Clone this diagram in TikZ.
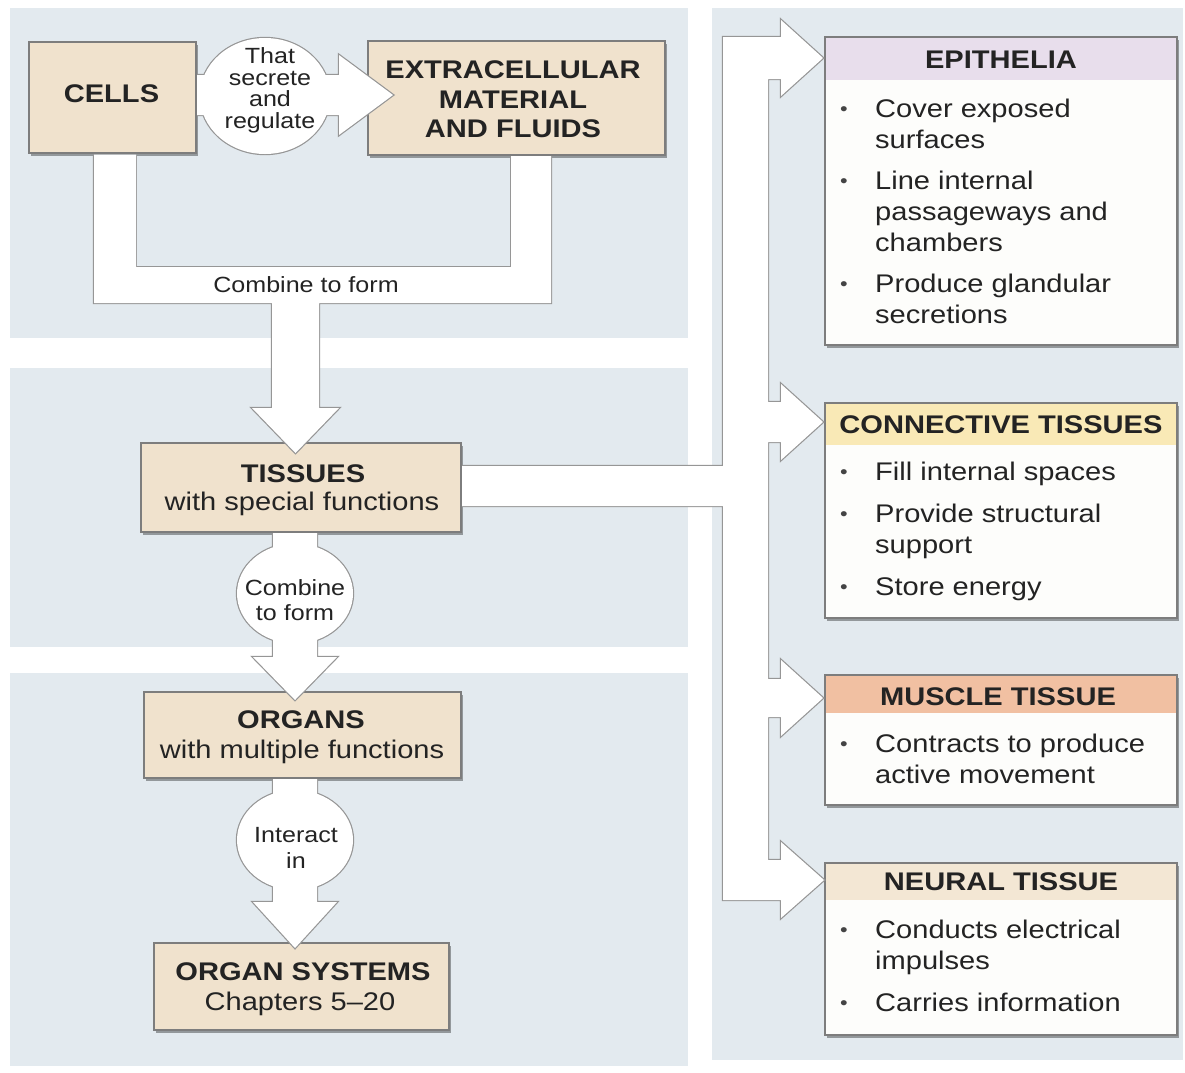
\documentclass[tikz,border=0pt]{standalone}
\usepackage{fontspec}
\setmainfont{Liberation Sans}[FakeStretch=1.14]
\usetikzlibrary{shadows,calc}
\definecolor{bgc}{RGB}{227,234,239}
\definecolor{boxtan}{RGB}{240,226,205}
\definecolor{bord}{RGB}{125,125,125}
\definecolor{arr}{RGB}{150,150,150}
\definecolor{ink}{RGB}{35,35,35}
\definecolor{hepi}{RGB}{232,222,236}
\definecolor{hcon}{RGB}{249,233,182}
\definecolor{hmus}{RGB}{241,192,162}
\definecolor{hneu}{RGB}{243,231,212}
\definecolor{bodyw}{RGB}{253,253,251}
\newcommand\myitem[3]{\node[bul, anchor=base west] (#1b) at (840,#2-2) {•};\node[bt, anchor=base west] (#1) at (875,#2) {#3};}
\newcommand\mycont[3]{\node[bt, anchor=base west] (#1) at (875,#2) {#3};}
\begin{document}
\begin{tikzpicture}[x=1pt,y=-1pt,
  panel/.style={fill=bgc, draw=none},
  tanbox/.style={draw=bord, line width=1.3pt, fill=boxtan, outer sep=0pt, inner sep=0pt,
    drop shadow={shadow xshift=1.5pt, shadow yshift=-2.5pt, fill=black, opacity=.35}},
  whitebox/.style={draw=bord, line width=1.3pt, fill=bodyw, outer sep=0pt, inner sep=0pt,
    drop shadow={shadow xshift=1.5pt, shadow yshift=-2.5pt, fill=black, opacity=.35}},
  bline/.style={draw=bord, line width=1.3pt},
  aline/.style={draw=arr, line width=2.4pt, line join=miter},
  afill/.style={fill=white},
  tb/.style={font=\fontsize{25.5}{30}\selectfont\bfseries, text=ink, inner sep=0pt},
  bt/.style={font=\fontsize{25.5}{30}\selectfont, text=ink, inner sep=0pt},
  bul/.style={font=\fontsize{19}{20}\selectfont, text=ink!85, inner sep=0pt},
  st/.style={font=\fontsize{22}{22}\selectfont, text=ink, inner sep=0pt}
]
\useasboundingbox (0,0) rectangle (1185,1072);
% background panels
\fill[panel] (10,8) rectangle (688,338);
\fill[panel] (10,368) rectangle (688,647);
\fill[panel] (10,673) rectangle (688,1066);
\fill[panel] (712,8) rectangle (1183,1060);

% left boxes
\node[tanbox, minimum width=167pt, minimum height=111pt] (cells) at (112.5,97.5) {};
\node[tanbox, minimum width=297pt, minimum height=114pt] (extra) at (516.5,98) {};
\node[tanbox, minimum width=320pt, minimum height=89pt] (tissues) at (301,487.5) {};
\node[tanbox, minimum width=317pt, minimum height=86pt] (organs) at (302.5,735) {};
\node[tanbox, minimum width=295pt, minimum height=87pt] (systems) at (301.5,986.5) {};

% right boxes
\node[whitebox, minimum width=352pt, minimum height=308pt] (epi) at (1001,191) {};
\fill[hepi] (epi.north west) rectangle ($(epi.north east)+(0,43)$);
\draw[bline] (epi.north west) rectangle (epi.south east);
\node[whitebox, minimum width=352pt, minimum height=215pt] (con) at (1001,510.5) {};
\fill[hcon] (con.north west) rectangle ($(con.north east)+(0,42)$);
\draw[bline] (con.north west) rectangle (con.south east);
\node[whitebox, minimum width=352pt, minimum height=130pt] (mus) at (1001,740) {};
\fill[hmus] (mus.north west) rectangle ($(mus.north east)+(0,38)$);
\draw[bline] (mus.north west) rectangle (mus.south east);
\node[whitebox, minimum width=352pt, minimum height=172pt] (neu) at (1001,949) {};
\fill[hneu] (neu.north west) rectangle ($(neu.north east)+(0,37)$);
\draw[bline] (neu.north west) rectangle (neu.south east);

% connector: cells -> extracellular with bubble
\draw[aline] (197,75) -- (339,75) -- (339,55) -- (393,95) -- (339,135) -- (339,115) -- (197,115);
\draw[aline] (265,96) ellipse [x radius=65pt, y radius=58pt];
\fill[afill] (197,75) -- (339,75) -- (339,55) -- (393,95) -- (339,135) -- (339,115) -- (197,115) -- cycle;
\fill[afill] (265,96) ellipse [x radius=65pt, y radius=58pt];

% connector: combine to form (U) -> tissues
\draw[aline] (94,154.5) -- (94,303) -- (272,303) -- (272,408) -- (252,408) -- (295.5,453) -- (339,408) -- (319,408) -- (319,303) -- (551,303) -- (551,156);
\draw[aline] (511,156) -- (511,267) -- (136,267) -- (136,154.5);
\fill[afill] (94,154.5) -- (94,303) -- (272,303) -- (272,408) -- (252,408) -- (295.5,453) -- (339,408) -- (319,408) -- (319,303) -- (551,303) -- (551,156) -- (511,156) -- (511,267) -- (136,267) -- (136,154.5) -- cycle;

% connector: tissues -> organs
\draw[aline] (273,533) -- (273,657) -- (253,657) -- (295,700) -- (337,657) -- (317,657) -- (317,533);
\draw[aline] (295,593.5) ellipse [x radius=58pt, y radius=50pt];
\fill[afill] (273,533) -- (273,657) -- (253,657) -- (295,700) -- (337,657) -- (317,657) -- (317,533) -- cycle;
\fill[afill] (295,593.5) ellipse [x radius=58pt, y radius=50pt];

% connector: organs -> organ systems
\draw[aline] (273,779) -- (273,902) -- (253,902) -- (295,948) -- (337,902) -- (317,902) -- (317,779);
\draw[aline] (295,840) ellipse [x radius=58pt, y radius=50pt];
\fill[afill] (273,779) -- (273,902) -- (253,902) -- (295,948) -- (337,902) -- (317,902) -- (317,779) -- cycle;
\fill[afill] (295,840) ellipse [x radius=58pt, y radius=50pt];

% connector: tissues -> four tissue types
\draw[aline] (462,466) -- (723,466) -- (723,37) -- (781,37) -- (781,20) -- (823,58) -- (781,96) -- (781,79) -- (768,79)
  -- (768,402) -- (781,402) -- (781,384) -- (823,422) -- (781,460) -- (781,442) -- (768,442)
  -- (768,679) -- (781,679) -- (781,660) -- (823,698) -- (781,736) -- (781,717) -- (768,717)
  -- (768,860) -- (781,860) -- (781,842) -- (824,880) -- (781,918) -- (781,900) -- (723,900) -- (723,506) -- (462,506);
\fill[afill] (462,466) -- (723,466) -- (723,37) -- (781,37) -- (781,20) -- (823,58) -- (781,96) -- (781,79) -- (768,79)
  -- (768,402) -- (781,402) -- (781,384) -- (823,422) -- (781,460) -- (781,442) -- (768,442)
  -- (768,679) -- (781,679) -- (781,660) -- (823,698) -- (781,736) -- (781,717) -- (768,717)
  -- (768,860) -- (781,860) -- (781,842) -- (824,880) -- (781,918) -- (781,900) -- (723,900) -- (723,506) -- (462,506) -- cycle;

% left texts
\node[tb, anchor=base] (cellsT) at (111.5,102) {CELLS};
\node[tb, anchor=base] (extraT1) at (513,78) {EXTRACELLULAR};
\node[tb, anchor=base] (extraT2) at (513,108) {MATERIAL};
\node[tb, anchor=base] (extraT3) at (513,137) {AND FLUIDS};
\node[st, anchor=base] (secT1) at (270,63) {That};
\node[st, anchor=base] (secT2) at (270,85) {secrete};
\node[st, anchor=base] (secT3) at (270,106) {and};
\node[st, anchor=base] (secT4) at (270,128) {regulate};
\node[st, anchor=base] (combT) at (306,292) {Combine to form};
\node[tb, anchor=base] (tisT1) at (303,482) {TISSUES};
\node[bt, anchor=base] (tisT2) at (302,510) {with special functions};
\node[st, anchor=base] (comb2T1) at (295,595) {Combine};
\node[st, anchor=base] (comb2T2) at (295,620) {to form};
\node[tb, anchor=base] (orgT1) at (301,728) {ORGANS};
\node[bt, anchor=base] (orgT2) at (302,758) {with multiple functions};
\node[st, anchor=base] (intT1) at (296,842) {Interact};
\node[st, anchor=base] (intT2) at (296,868) {in};
\node[tb, anchor=base] (sysT1) at (303,980) {ORGAN SYSTEMS};
\node[bt, anchor=base] (sysT2) at (300,1010) {Chapters 5–20};

% right texts
\node[tb, anchor=base] (epiT) at (1001,68) {EPITHELIA};
\myitem{e1}{117}{Cover exposed}
\mycont{e2}{148}{surfaces}
\myitem{e3}{189}{Line internal}
\mycont{e4}{220}{passageways and}
\mycont{e5}{251}{chambers}
\myitem{e6}{292}{Produce glandular}
\mycont{e7}{323}{secretions}
\node[tb, anchor=base] (conT) at (1001,433) {CONNECTIVE TISSUES};
\myitem{c1}{480}{Fill internal spaces}
\myitem{c2}{522}{Provide structural}
\mycont{c3}{553}{support}
\myitem{c4}{595}{Store energy}
\node[tb, anchor=base] (musT) at (998,705) {MUSCLE TISSUE};
\myitem{m1}{752}{Contracts to produce}
\mycont{m2}{783}{active movement}
\node[tb, anchor=base] (neuT) at (1001,890) {NEURAL TISSUE};
\myitem{n1}{938}{Conducts electrical}
\mycont{n2}{969}{impulses}
\myitem{n3}{1011}{Carries information}
\end{tikzpicture}
\end{document}
